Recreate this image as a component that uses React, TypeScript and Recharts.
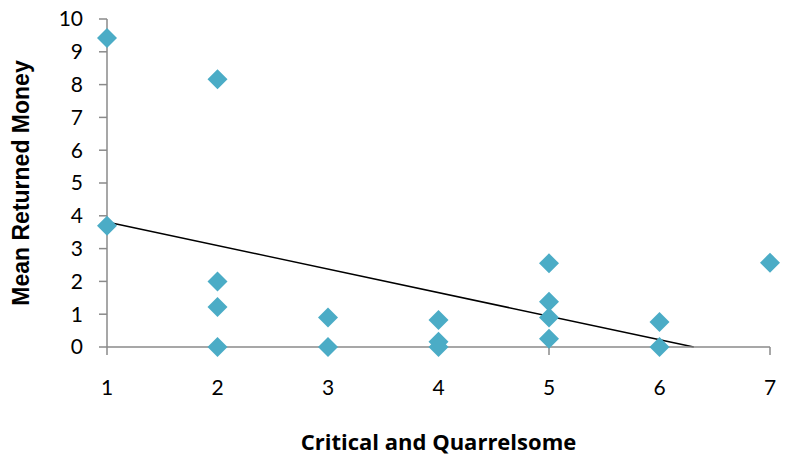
import React from 'react';
import { ScatterChart, Scatter, XAxis, YAxis, ReferenceLine } from 'recharts';

const xValues = [1, 1, 2, 2, 2, 2, 3, 3, 4, 4, 4, 5, 5, 5, 5, 6, 6, 7];
const yValues = [9.42, 3.7, 8.16, 2.0, 1.22, 0.0, 0.9, 0.0, 0.82, 0.16, 0.0, 2.55, 1.38, 0.9, 0.25, 0.76, 0.0, 2.57];
const trendX = [1, 6.31];
const trendY = [3.81, 0];
const xTicks = [1, 2, 3, 4, 5, 6, 7];
const yTicks = [0, 1, 2, 3, 4, 5, 6, 7, 8, 9, 10];

const points = xValues.map((x, i) => ({ x, y: yValues[i] }));

const FONT = 'Lato, "Open Sans", sans-serif';
const XTITLE_FONT = '"Open Sans", Lato, sans-serif';
const YTITLE_FONT = '"Liberation Sans", Arial, sans-serif';
const AXIS = '#8a8a8a';
const MARK = '#4bacc6';

const Diamond = (props: any) => {
  const { cx, cy } = props;
  if (cx == null || cy == null) return null;
  const r = 10;
  return (
    <path
      d={`M${cx},${cy - r} L${cx + r},${cy} L${cx},${cy + r} L${cx - r},${cy} Z`}
      fill={MARK}
    />
  );
};

export default function App() {
  return (
    <div style={{ position: 'absolute', left: 0, top: 0, background: '#fff' }}>
      <ScatterChart
        width={787}
        height={456}
        margin={{ top: 19, right: 17, bottom: 9, left: 0 }}
        style={{ fontFamily: FONT }}
      >
        <XAxis
          type="number"
          dataKey="x"
          domain={[1, 7]}
          ticks={xTicks}
          interval={0}
          height={100}
          axisLine={{ stroke: AXIS, strokeWidth: 1.5 }}
          tickLine={{ stroke: AXIS, strokeWidth: 1.5 }}
          tickSize={8}
          tickMargin={25}
          tick={{ fill: '#000', fontSize: 21, fontFamily: FONT }}
          label={{
            value: 'Critical and Quarrelsome',
            position: 'insideBottom',
            offset: -3,
            style: { fill: '#000', fontSize: 22, fontWeight: 700, fontFamily: XTITLE_FONT },
          }}
        />
        <YAxis
          type="number"
          dataKey="y"
          domain={[0, 10]}
          ticks={yTicks}
          interval={0}
          width={107}
          axisLine={{ stroke: AXIS, strokeWidth: 1.5 }}
          tickLine={{ stroke: AXIS, strokeWidth: 1.5 }}
          tickSize={8}
          tickMargin={16}
          tick={{ fill: '#000', fontSize: 21, fontFamily: FONT }}
          label={{
            value: 'Mean Returned Money',
            angle: -90,
            position: 'insideLeft',
            offset: 21,
            style: { textAnchor: 'middle', fill: '#000', fontSize: 23, fontWeight: 700, fontFamily: YTITLE_FONT },
          }}
        />
        <ReferenceLine
          segment={[
            { x: trendX[0], y: trendY[0] },
            { x: trendX[1], y: trendY[1] },
          ]}
          stroke="#000"
          strokeWidth={1.5}
        />
        <Scatter data={points} shape={<Diamond />} isAnimationActive={false} />
      </ScatterChart>
    </div>
  );
}
